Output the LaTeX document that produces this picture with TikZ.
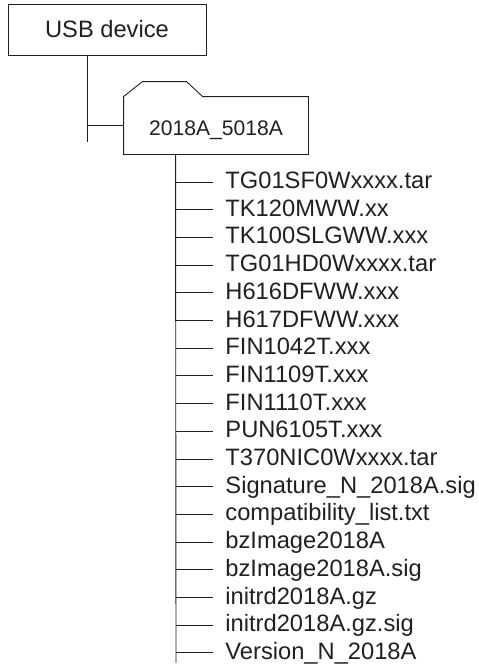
\documentclass[tikz,border=0pt]{standalone}
\usepackage{fontspec}
\setmainfont{Liberation Sans}
\usetikzlibrary{positioning}
\definecolor{ink}{RGB}{35,31,32}

\begin{document}
\begin{tikzpicture}[x=1pt, y=-1pt, line width=0.9pt, color=ink,
  box/.style={draw, rectangle, inner sep=0pt},
  file/.style={anchor=west, inner xsep=12pt, inner ysep=0pt, text height=13pt, text depth=0pt, font=\fontsize{23.7}{26}\selectfont}]
  \useasboundingbox (0,0) rectangle (479,669);
  \node[box, minimum width=198pt, minimum height=51pt, font=\fontsize{23.7}{26}\selectfont] (usb) at (107,29.5) {USB device};
  \node[rectangle, inner sep=0pt, minimum width=184pt, minimum height=57pt, text height=20.8pt, text depth=0pt, font=\fontsize{21.1}{24}\selectfont] (folder) at (216,125.5) {2018A\_5018A};
  % folder outline with its tab
  \draw (folder.south west) -- (folder.north west) -- ++(19,-15) -- ++(44,0) -- ++(16,15)
    -- (folder.north east) -- (folder.south east) -- cycle;
  % usb device -> folder
  \coordinate (u1) at ([xshift=-20pt]usb.south);
  \coordinate (u2) at (87,142);
  \draw (u1) -- (u2);
  \draw (u1 |- folder.west) -- (folder.west);
  % files in the folder
  \coordinate (trunk top) at ([xshift=52pt]folder.south west);
  \coordinate (trunk end) at (176,663);
  \draw (trunk top) -- (trunk end);
  \foreach \name [count=\i] in {TG01SF0Wxxxx.tar, TK120MWW.xx, TK100SLGWW.xxx, TG01HD0Wxxxx.tar,
      H616DFWW.xxx, H617DFWW.xxx, FIN1042T.xxx, FIN1109T.xxx, FIN1110T.xxx, PUN6105T.xxx,
      T370NIC0Wxxxx.tar, Signature\_N\_2018A.sig, compatibility\_list.txt, bzImage2018A,
      bzImage2018A.sig, initrd2018A.gz, initrd2018A.gz.sig, Version\_N\_2018A}{
    \coordinate (t\i) at (176,{182+27.7*(\i-1)});
    \node[file] (f\i) at (213,{182+27.7*(\i-1)}) {\name};
    \draw (t\i) -- (f\i.west);
  }
\end{tikzpicture}
\end{document}
